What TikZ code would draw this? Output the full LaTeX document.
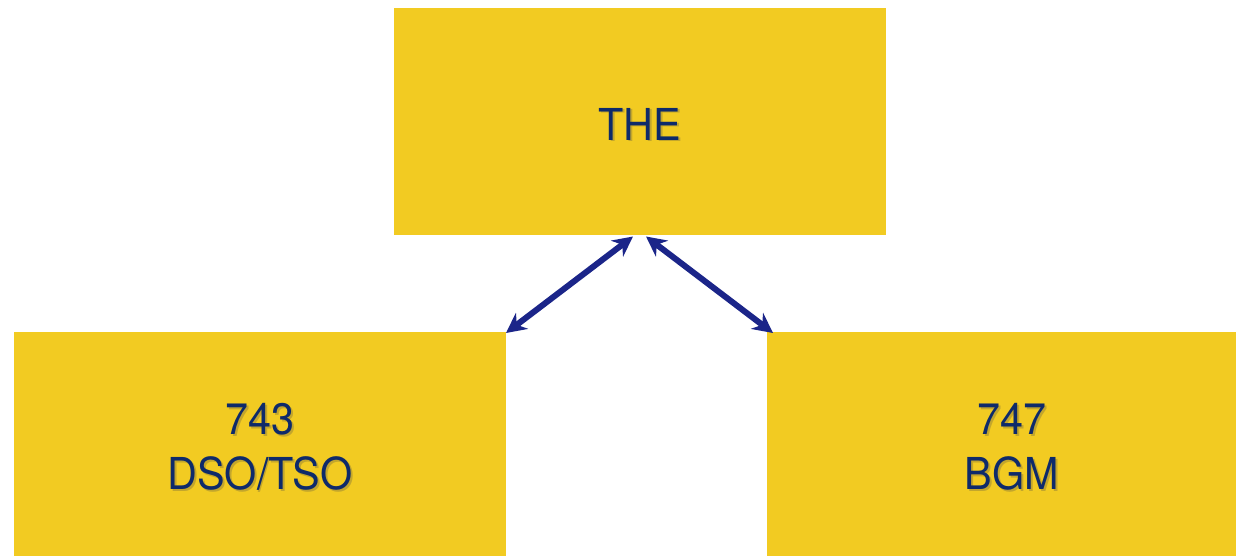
\documentclass[tikz,border=0pt]{standalone}
\usepackage{fontspec}
\setmainfont{TeX Gyre Heros}
\usetikzlibrary{arrows.meta,calc}
\definecolor{boxyellow}{HTML}{F2CB22}
\definecolor{labelnavy}{HTML}{0E2A6A}
\definecolor{arrownavy}{HTML}{1B2589}
\definecolor{shadowgray}{HTML}{8A7A3A}
\newcommand{\narrow}[1]{\scalebox{0.94}[1]{#1}}
\tikzset{
  block/.style={fill=boxyellow, draw=none, inner sep=0pt},
  label text/.style={text=labelnavy, font=\fontsize{44}{55}\selectfont, align=center, inner sep=0pt},
  label shadow/.style={text=shadowgray, opacity=0.45, font=\fontsize{44}{55}\selectfont, align=center, inner sep=0pt},
  link/.style={draw=arrownavy, line width=6pt, {Stealth[length=20pt,width=20pt]}-{Stealth[length=20pt,width=20pt]}}
}
\begin{document}
\begin{tikzpicture}[x=1pt,y=-1pt]
  \useasboundingbox (0,0) rectangle (1236,556);
  % blocks
  \path[block] (394,8) rectangle (886,235);
  \path[block] (14,332) rectangle (506,556);
  \path[block] (767,332) rectangle (1236,556);
  \coordinate (top) at (640,235);
  \coordinate (leftbox) at (506,332);
  \coordinate (rightbox) at (767,332);
  % labels with soft drop shadow
  \node[label shadow] at (641.8,125.8) {\narrow{THE}};
  \node[label text] (the) at (640,124) {\narrow{THE}};
  \node[label shadow] at (261.8,448.8) {\narrow{743}\\\narrow{DSO/TSO}};
  \node[label text] (dso) at (260,447) {\narrow{743}\\\narrow{DSO/TSO}};
  \node[label shadow] at (1013.8,448.8) {\narrow{747}\\\narrow{BGM}};
  \node[label text] (bgm) at (1012,447) {\narrow{747}\\\narrow{BGM}};
  % connectors
  \draw[link] ($(top)+(-7,1.5)$) -- ($(leftbox)+(0,1)$);
  \draw[link] ($(top)+(6,1.5)$) -- ($(rightbox)+(6,1)$);
\end{tikzpicture}
\end{document}
